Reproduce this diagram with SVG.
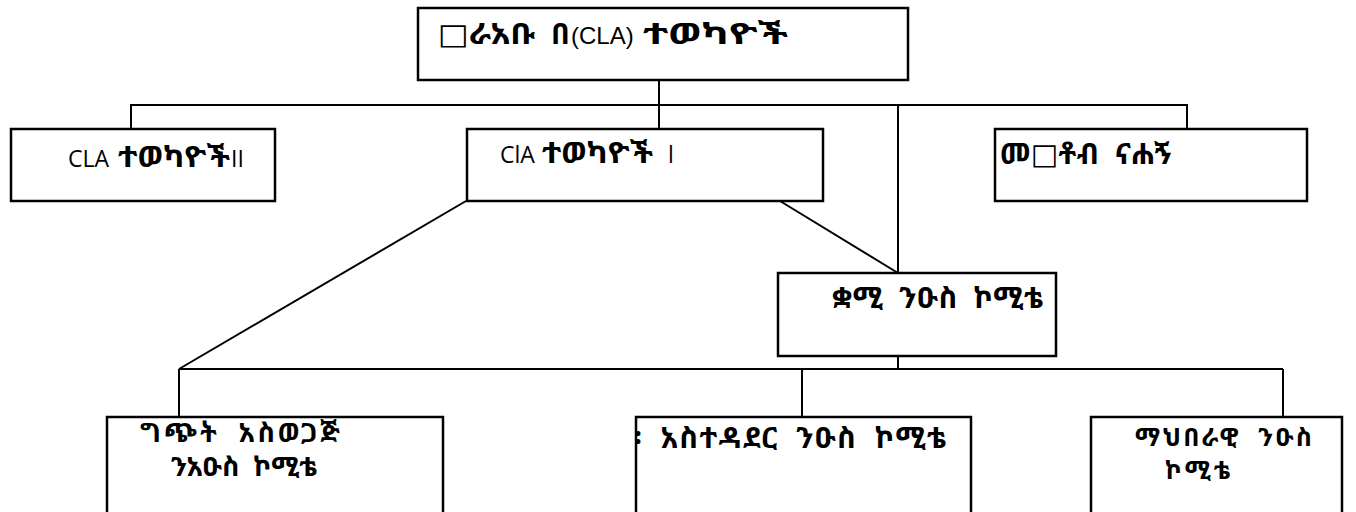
<svg xmlns="http://www.w3.org/2000/svg" width="1356" height="512" viewBox="0 0 1356 512">
<style>
.box{fill:#fff;stroke:#000;stroke-width:2.5}
.ln{fill:none;stroke:#000;stroke-width:2}
text{white-space:pre}
.t{font-family:"Noto Sans Ethiopic","Abyssinica SIL","Noto Serif Ethiopic","DejaVu Sans","Liberation Sans",sans-serif;font-size:29px;font-weight:bold;fill:#000}
.t2{font-size:27px}
.t3{font-size:25px}
.c{font-family:"Open Sans","Noto Sans Ethiopic","DejaVu Sans",sans-serif;font-size:23px;fill:#000}
.a{font-family:"Liberation Sans","Noto Sans Ethiopic",sans-serif;font-size:24px;fill:#000}
</style>
<rect width="1356" height="512" fill="#fff"/>
<g id="connectors">
<path class="ln" d="M659 80V105M131 128V105H1187V128M659 105V129M898 105V273"/>
<path class="ln" d="M466 201L179 369M780 201L898 273"/>
<path class="ln" d="M898 345V369M179 369H1283M179 369V417M802 369V417M1283 369V417"/>
</g>
<g id="n-top"><rect class="box" x="418" y="8" width="490" height="72"/>
<text class="t" x="438" y="44" textLength="97" lengthAdjust="spacingAndGlyphs">□ራአቡ</text>
<text class="t" x="551" y="44">በ</text>
<text class="a" x="571" y="44">(CLA)</text>
<text class="t" x="643" y="44" textLength="145" lengthAdjust="spacingAndGlyphs">ተወካዮች</text></g>
<g id="n-cla2"><rect class="box" x="11" y="129" width="264" height="72"/>
<text class="c" x="68" y="167">CLA</text>
<text class="t" x="118" y="167" textLength="112" lengthAdjust="spacingAndGlyphs">ተወካዮች</text>
<text class="c" x="231" y="167">II</text></g>
<g id="n-cla1"><rect class="box" x="467" y="129" width="356" height="72"/>
<text class="c" x="500" y="163">ClA</text>
<text class="t" x="542" y="163" textLength="111" lengthAdjust="spacingAndGlyphs">ተወካዮች</text>
<text class="c" x="668" y="163">l</text></g>
<g id="n-right"><rect class="box" x="995" y="129" width="312" height="72"/>
<text class="t" x="1000" y="164" textLength="172" lengthAdjust="spacing">መ□ቶብ  ናሐኝ</text></g>
<g id="n-quami"><rect class="box" x="778" y="273" width="278" height="83"/>
<text class="t" x="832" y="308" textLength="211" lengthAdjust="spacing">ቋሚ  ንዑስ  ኮሚቴ</text></g>
<g id="n-conflict"><rect class="box" x="107" y="417" width="336" height="110"/>
<text class="t t2" x="140" y="442" textLength="200" lengthAdjust="spacing">ግጭት  አስወጋጅ</text>
<text class="t t2" x="171" y="476" textLength="146" lengthAdjust="spacing">ንአዑስ  ኮሚቴ</text></g>
<g id="n-admin"><rect class="box" x="636" y="417" width="335" height="110"/>
<text class="t" x="634" y="448" textLength="312" lengthAdjust="spacing">፡  አስተዳደር  ንዑስ  ኮሚቴ</text></g>
<g id="n-social"><rect class="box" x="1091" y="417" width="251" height="110"/>
<text class="t t3" x="1135" y="446" textLength="177" lengthAdjust="spacing">ማህበራዊ  ንዑስ</text>
<text class="t t3" x="1165" y="479" textLength="65" lengthAdjust="spacing">ኮሚቴ</text></g>
</svg>
